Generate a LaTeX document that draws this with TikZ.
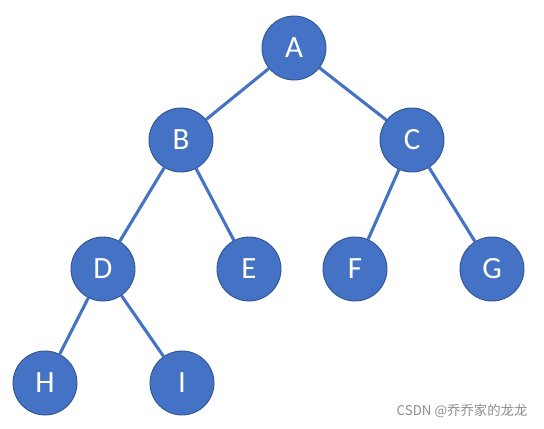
\documentclass[tikz,border=0pt]{standalone}
\usepackage{fontspec}
\setmainfont{Carlito}
\newfontfamily\cjk{Noto Sans CJK SC}
\usepackage{xcolor}
\definecolor{nodeblue}{HTML}{4472C4}
\definecolor{rimblue}{HTML}{2F528F}

\begin{document}
\begin{tikzpicture}[
treenode/.style={shape=circle,fill=nodeblue,draw=rimblue,line width=0.6pt,minimum size=1.6cm,inner sep=0pt,text=white,font=\fontsize{22}{26}\selectfont},
branch/.style={nodeblue,line width=2.2pt}]
\useasboundingbox(0,0)rectangle(13.6,10.7);
% nodes
\path(7.35,9.5)node[treenode](a){A}
(4.525,7.2)node[treenode](b){B}
(10.3,7.2)node[treenode](c){C}
(2.575,3.975)node[treenode](d){D}
(6.225,3.975)node[treenode](e){E}
(8.875,3.975)node[treenode](f){F}
(12.3,3.975)node[treenode](g){G}
(1.125,1.125)node[treenode](h){H}
(4.55,1.125)node[treenode](i){I};
% branches
\draw[branch](a)--(b);
\draw[branch](a)--(c);
\draw[branch](b)--(d);
\draw[branch](b)--(e);
\draw[branch](c)--(f);
\draw[branch](c)--(g);
\draw[branch](d)--(h);
\draw[branch](d)--(i);
\node[text=black!45,font=\cjk\fontsize{9.5}{11}\selectfont](mark)at(11.55,0.43){CSDN @乔乔家的龙龙};
\end{tikzpicture}
\end{document}
